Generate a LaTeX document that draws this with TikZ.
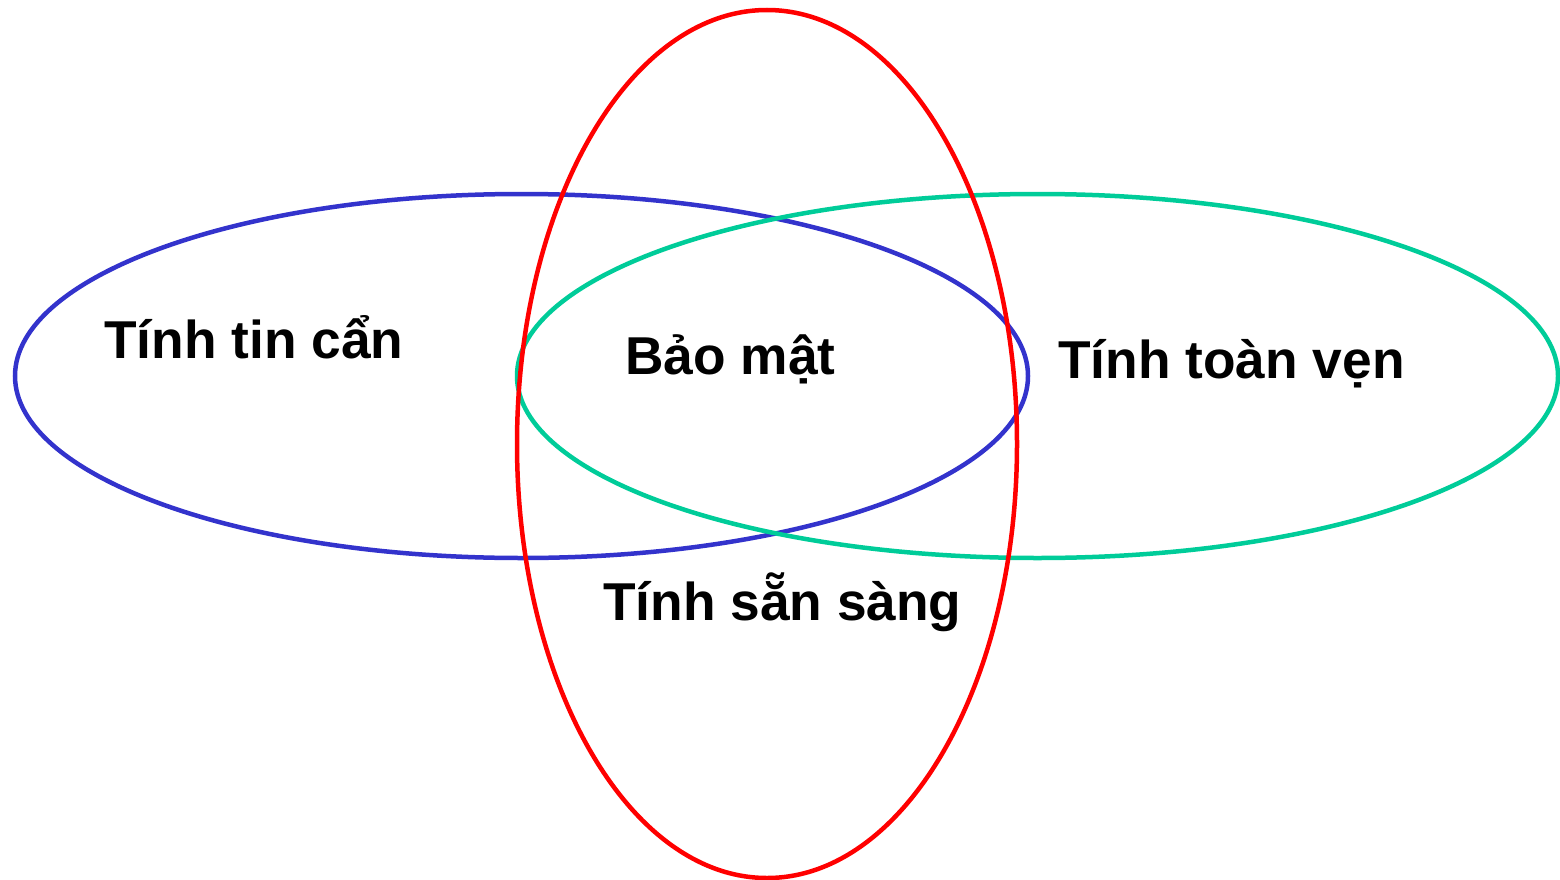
\documentclass[tikz,border=0pt]{standalone}
\usepackage{fontspec}
\setmainfont{Liberation Sans}
\definecolor{cblue}{HTML}{3333CC}
\definecolor{cgreen}{HTML}{00CC99}
\definecolor{cred}{HTML}{FF0000}
\begin{document}
\begin{tikzpicture}[x=1pt,y=-1pt,
  ring/.style={line width=4.5pt},
  lbl/.style={anchor=base west,inner sep=0pt,font=\fontsize{53.3}{58}\selectfont\bfseries}]
\useasboundingbox (0,0) rectangle (1560,880);
\draw[ring,cblue] (521.5,376) ellipse [x radius=506.5, y radius=182];
\draw[ring,cgreen] (1037.5,376) ellipse [x radius=520.5, y radius=182];
\draw[ring,cred] (767,444) ellipse [x radius=250, y radius=434];
\node[lbl] (conf) at (104,358) {Tính tin cẩn};
\node[lbl] (sec) at (625,374) {Bảo mật};
\node[lbl] (integ) at (1058,378) {Tính toàn vẹn};
\node[lbl] (avail) at (603,620) {Tính sẵn sàng};
\end{tikzpicture}
\end{document}
